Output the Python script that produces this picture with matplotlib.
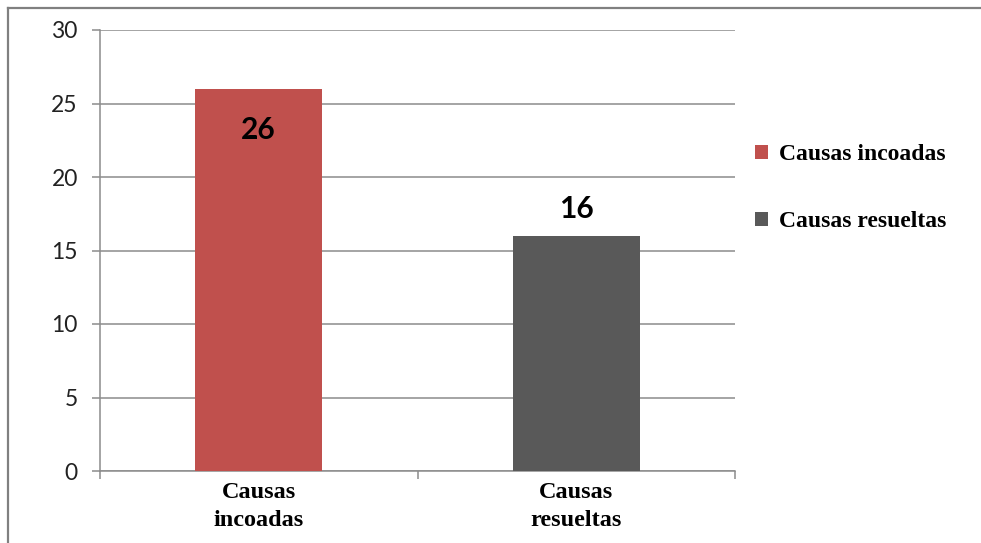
import matplotlib
matplotlib.use("Agg")
import matplotlib.pyplot as plt
from matplotlib.lines import Line2D

categories = ["Causas\nincoadas", "Causas\nresueltas"]
legend_labels = ["Causas incoadas", "Causas resueltas"]
values = [26, 16]
colors = ["#C0504D", "#595959"]
yticks = [0, 5, 10, 15, 20, 25, 30]

W, H = 981, 543
fig = plt.figure(figsize=(W / 100, H / 100), dpi=100)
ax = fig.add_axes([100 / W, 72 / H, 635 / W, 441 / H])

grid_col = "#8C8C8C"
x = list(range(len(categories)))
bars = ax.bar(x, values, width=0.4, color=colors, zorder=3)

ax.set_xlim(-0.5, len(categories) - 0.5)
ax.set_ylim(0, 30)
ax.set_yticks(yticks)
ax.yaxis.grid(True, color=grid_col, linewidth=1.1, zorder=0)
ax.set_axisbelow(True)

for s in ["top", "right"]:
    ax.spines[s].set_visible(False)
for s in ["left", "bottom"]:
    ax.spines[s].set_color(grid_col)
    ax.spines[s].set_linewidth(1.1)

ax.tick_params(axis="y", colors=grid_col, length=6, width=1.1, pad=10)
for lab in ax.get_yticklabels():
    lab.set_family(["Lato", "DejaVu Sans"])
    lab.set_fontsize(16.5)
    lab.set_color("#222222")

ax.set_xticks(x)
ax.set_xticklabels(categories, family="Liberation Serif", fontweight="bold",
                   fontsize=17.5, color="black", linespacing=1.4)
ax.tick_params(axis="x", length=0, pad=8)
ax.set_xticks([-0.5, 0.5, 1.5], minor=True)
ax.tick_params(axis="x", which="minor", length=6, width=1.1, colors=grid_col)

# value labels: first inside the bar end, second above the bar
offsets = [-30, 19]
for b, v, off in zip(bars, values, offsets):
    ax.annotate(str(v), (b.get_x() + b.get_width() / 2, v), xytext=(0, off),
                textcoords="offset points", ha="center", va="center",
                fontsize=21.5, fontweight="bold", family=["Lato", "DejaVu Sans"],
                color="black")

fig.legend(handles=list(bars), labels=legend_labels, loc="center left",
           bbox_to_anchor=(755 / W, 1 - 188 / H), bbox_transform=fig.transFigure,
           frameon=False, borderpad=0, borderaxespad=0,
           handlelength=0.55, handleheight=0.55, handletextpad=0.45,
           labelspacing=1.95,
           prop={"family": "Liberation Serif", "weight": "bold", "size": 17})

# outer border (only top and left visible in the crop)
fig.add_artist(Line2D([7.5 / W, 1.0], [1 - 7.5 / H, 1 - 7.5 / H],
                      transform=fig.transFigure, color="#808080", linewidth=1.6))
fig.add_artist(Line2D([7.5 / W, 7.5 / W], [0.0, 1 - 7.5 / H],
                      transform=fig.transFigure, color="#808080", linewidth=1.6))

fig.savefig("out.png", dpi=100)
